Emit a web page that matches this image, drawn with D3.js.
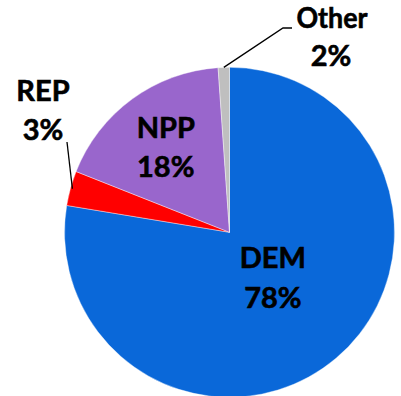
<!DOCTYPE html>
<html><head><meta charset="utf-8">
<script src="https://cdn.jsdelivr.net/npm/d3@7"></script>
<style>body{margin:0;background:#fff}svg{display:block}</style>
</head><body>
<script>
const categories = ["DEM", "REP", "NPP", "Other"];
const shares = [77.6, 3.4, 17.9, 1.1];
const pctLabels = ["78%", "3%", "18%", "2%"];
const colors = ["#0A68D9", "#FF0000", "#9966CC", "#BFBFBF"];

const W = 401, H = 396;
const cx = 229.5, cy = 232.3, R = 165;
const svg = d3.select("body").append("svg").attr("width", W).attr("height", H);
const g = svg.append("g").attr("transform", `translate(${cx},${cy})`);

const pie = d3.pie().sort(null).value(d => d.v);
const data = pie(categories.map((c, i) => ({c, v: shares[i], p: pctLabels[i], col: colors[i]})));
const arc = d3.arc().innerRadius(0).outerRadius(R);

g.selectAll("path.slice").data(data).join("path")
  .attr("class", "slice")
  .attr("d", arc)
  .attr("fill", d => d.data.col)
  .attr("stroke", "#fff").attr("stroke-width", 0.4);

function polar(a, r) { return [Math.sin(a) * r, -Math.cos(a) * r]; }

const font = "Lato, 'Open Sans', sans-serif";
const FS = 29, LINE = 39.5;
function label(x, b1, d) {
  const t = g.append("text").attr("text-anchor", "middle")
    .attr("font-family", font).attr("font-weight", 700)
    .attr("font-size", FS).attr("fill", "#000")
    .attr("stroke", "#000").attr("stroke-width", 0.6);
  t.append("tspan").attr("x", x).attr("y", b1).text(d.data.c);
  t.append("tspan").attr("x", x).attr("y", b1 + LINE).text(d.data.p);
}

// inside labels: radius along slice mid-angle, with small vertical tweak
const inside = {DEM: [67, -6], NPP: [108, 2]};
data.forEach(d => {
  const cfg = inside[d.data.c];
  if (!cfg) return;
  const mid = (d.startAngle + d.endAngle) / 2;
  const [x, y] = polar(mid, cfg[0]);
  label(x, y + cfg[1] - 9.25, d);
});

// outside labels with leader lines
const rep = data[1], oth = data[3];
{
  const mid = (rep.startAngle + rep.endAngle) / 2;
  const [px, py] = polar(mid, R - 2);
  g.append("path").attr("d", `M${px},${py}L${67 - cx},${142 - cy}`)
    .attr("stroke", "#000").attr("stroke-width", 1.3).attr("fill", "none");
  label(43 - cx, 100.5 - cy, rep);
}
{
  const mid = (oth.startAngle + oth.endAngle) / 2;
  const [px, py] = polar(mid, R);
  g.append("path").attr("d", `M${px},${py}L${283 - cx},${28 - cy}L${292 - cx},${28 - cy}`)
    .attr("stroke", "#000").attr("stroke-width", 1.3).attr("fill", "none");
  const t = g.append("text").attr("text-anchor", "middle")
    .attr("font-family", font).attr("font-weight", 700)
    .attr("font-size", FS).attr("fill", "#000")
    .attr("stroke", "#000").attr("stroke-width", 0.6);
  t.append("tspan").attr("x", 332 - cx).attr("y", 28 - cy).attr("textLength", 71).attr("lengthAdjust", "spacingAndGlyphs").text(oth.data.c);
  t.append("tspan").attr("x", 331 - cx).attr("y", 65.5 - cy).text(oth.data.p);
}
</script>
</body></html>
